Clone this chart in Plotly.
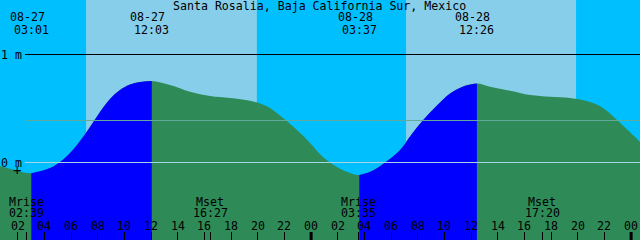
import plotly.graph_objects as go

# ---------------- data ----------------
# hours since 08-27 00:00, tide height in metres
tide_hours = [0.667, 1.79, 3.017, 4.417, 5.167, 5.917, 6.667, 7.417, 8.167, 8.917, 9.667,
              10.417, 11.167, 12.05,
              13.42, 14.92, 16.42, 17.92, 19.42, 20.02, 20.92, 21.89, 22.94, 23.92,
              24.89, 25.94, 26.92, 27.617, 28.56, 29.54, 30.67, 31.5, 32.39, 33.4,
              34.42, 35.5, 36.433, 37.42, 38.92, 40.42, 41.92, 43.42, 44.92, 45.89,
              46.94, 48.14, 48.667]
tide_heights = [-0.032, -0.069, -0.100, -0.051, 0.005, 0.088, 0.199, 0.329, 0.468, 0.588, 0.671,
                0.722, 0.745, 0.755,
                0.718, 0.656, 0.616, 0.597, 0.572, 0.553, 0.505, 0.412, 0.301, 0.181,
                0.051, -0.042, -0.097, -0.116, -0.079, 0.0, 0.116, 0.255, 0.391, 0.523,
                0.639, 0.708, 0.731, 0.702, 0.665, 0.625, 0.609, 0.597, 0.56, 0.505,
                0.394, 0.255, 0.19]

# tide extremes (low, high, low, high)
event_hours = [3.017, 12.05, 27.617, 36.433]
event_dates = ["08-27", "08-27", "08-28", "08-28"]
event_times = ["03:01", "12:03", "03:37", "12:26"]

# rising (flood) intervals between a low and the next high
flood_intervals = [(3.017, 12.05), (27.617, 36.433)]

# daylight intervals (sunrise, sunset)
day_intervals = [(7.12, 19.93), (31.12, 43.87)]

# moon events
moon_hours = [2.65, 16.45, 27.583, 41.333]
moon_names = ["Mrise", "Mset", "Mrise", "Mset"]
moon_times = ["02:39", "16:27", "03:35", "17:20"]

# hour ticks
hour_ticks = [2, 4, 6, 8, 10, 12, 14, 16, 18, 20, 22, 24, 26, 28, 30, 32, 34,
              36, 38, 40, 42, 44, 46, 48]
hour_labels = ["02", "04", "06", "08", "10", "12", "14", "16", "18", "20", "22", "00",
               "02", "04", "06", "08", "10", "12", "14", "16", "18", "20", "22", "00"]
midnights = [24, 48]

level_lines = [1.0, 0.389, 0.0]
level_labels = ["1 m", "0 m"]
title = "Santa Rosalia, Baja California Sur, Mexico"

# ---------------- style ----------------
NIGHT = "#00BFFF"
DAY = "#87CEEB"
FLOOD = "#0000FF"
EBB = "#2E8B57"
FONT = dict(family="DejaVu Sans Mono", size=11.6, color="black")
X0, X1 = 0.667, 48.667
Y0, Y1 = -0.7176, 1.5046
W, H = 640, 240


def py(pix):
    return 1 - pix / H


fig = go.Figure()

# ebb (whole curve) fill
fig.add_trace(go.Scatter(x=[tide_hours[0], tide_hours[-1]], y=[Y0, Y0], mode="lines",
                         line=dict(width=0), hoverinfo="skip", showlegend=False))
fig.add_trace(go.Scatter(x=tide_hours, y=tide_heights, mode="lines",
                         line=dict(width=0, shape="spline", color=EBB),
                         fill="tonexty", fillcolor=EBB, showlegend=False))

# flood fills
for a, b in flood_intervals:
    xs = [h for h in tide_hours if a <= h <= b]
    ys = [v for h, v in zip(tide_hours, tide_heights) if a <= h <= b]
    fig.add_trace(go.Scatter(x=[xs[0], xs[-1]], y=[Y0, Y0], mode="lines",
                             line=dict(width=0), hoverinfo="skip", showlegend=False))
    fig.add_trace(go.Scatter(x=xs, y=ys, mode="lines",
                             line=dict(width=0, shape="spline", color=FLOOD),
                             fill="tonexty", fillcolor=FLOOD, showlegend=False))

shapes = []
for a, b in day_intervals:
    shapes.append(dict(type="rect", xref="x", yref="paper", x0=a, x1=b, y0=0, y1=1,
                       fillcolor=DAY, line=dict(width=0), layer="below"))

line_colors = ["black", "#63A99A", "#A6D6E4"]
for lv, c in zip(level_lines, line_colors):
    shapes.append(dict(type="line", xref="paper", yref="y", x0=25 / W, x1=1, y0=lv, y1=lv,
                       line=dict(color=c, width=1), layer="above"))

for m in midnights:
    shapes.append(dict(type="line", xref="x", yref="paper", x0=m, x1=m, y0=0, y1=8 / H,
                       line=dict(color="black", width=3), layer="above"))

TXT = dict(showarrow=False, font=FONT, xanchor="center", yanchor="middle")
ann = []
ann.append(dict(text=title, x=319.5 / W, y=py(6), xref="paper", yref="paper", **TXT))
for h, d, t in zip(event_hours, event_dates, event_times):
    ann.append(dict(text=d, x=h, y=py(17), xref="x", yref="paper", xshift=-4, **TXT))
    ann.append(dict(text=t, x=h, y=py(30), xref="x", yref="paper", **TXT))
for h, n, t in zip(moon_hours, moon_names, moon_times):
    ann.append(dict(text=n, x=h, y=py(202), xref="x", yref="paper", **TXT))
    ann.append(dict(text=t, x=h, y=py(213.3), xref="x", yref="paper", **TXT))
for h, lab in zip(hour_ticks, hour_labels):
    ann.append(dict(text=lab, x=h, y=py(225.7), xref="x", yref="paper", **TXT))
for lv, lab in zip(level_lines[::2], level_labels):
    ann.append(dict(text=lab, x=11.5 / W, y=lv, xref="paper", yref="y", **TXT))
ann.append(dict(text="+", x=17.3 / W, y=py(170), xref="paper", yref="paper",
                showarrow=False, font=dict(family="DejaVu Sans Mono", size=14, color="black"),
                xanchor="center", yanchor="middle"))

fig.update_layout(
    width=W, height=H, margin=dict(l=0, r=0, t=0, b=0),
    paper_bgcolor=NIGHT, plot_bgcolor=NIGHT,
    shapes=shapes, annotations=ann, showlegend=False,
    xaxis=dict(range=[X0, X1], showgrid=False, zeroline=False, showline=False,
               ticks="inside", ticklen=8, tickwidth=1, tickcolor="black",
               tickvals=hour_ticks + moon_hours, showticklabels=False, fixedrange=True),
    yaxis=dict(range=[Y0, Y1], visible=False, fixedrange=True),
)

fig.write_html("out.html")
